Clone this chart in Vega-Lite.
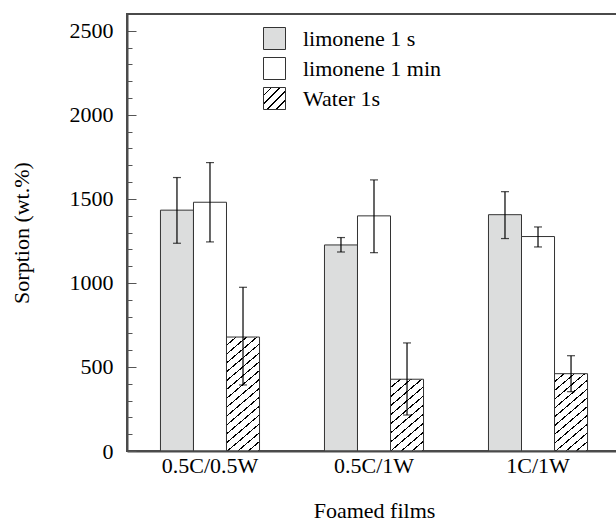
{
  "$schema": "https://vega.github.io/schema/vega-lite/v6.json",
  "width": 494,
  "height": 437,
  "autosize": {"type": "none"},
  "padding": {"left": 127, "top": 14, "right": -5, "bottom": 72},
  "data": {
    "values": [
      {"group": "0.5C/0.5W", "series": "limonene 1 s", "value": 1433, "lo": 1236, "hi": 1627},
      {"group": "0.5C/0.5W", "series": "limonene 1 min", "value": 1480, "lo": 1244, "hi": 1716},
      {"group": "0.5C/0.5W", "series": "Water 1s", "value": 678, "lo": 393, "hi": 974},
      {"group": "0.5C/1W", "series": "limonene 1 s", "value": 1226, "lo": 1184, "hi": 1270},
      {"group": "0.5C/1W", "series": "limonene 1 min", "value": 1399, "lo": 1180, "hi": 1613},
      {"group": "0.5C/1W", "series": "Water 1s", "value": 427, "lo": 214, "hi": 643},
      {"group": "1C/1W", "series": "limonene 1 s", "value": 1406, "lo": 1264, "hi": 1543},
      {"group": "1C/1W", "series": "limonene 1 min", "value": 1276, "lo": 1214, "hi": 1333},
      {"group": "1C/1W", "series": "Water 1s", "value": 460, "lo": 353, "hi": 567}
    ]
  },
  "resolve": {"axis": {"x": "independent", "y": "independent"}},
  "layer": [
    {
      "mark": {"type": "bar", "stroke": "#333", "strokeWidth": 1},
      "encoding": {
        "x": {
          "field": "group", "type": "nominal",
          "sort": ["0.5C/0.5W", "0.5C/1W", "1C/1W"],
          "scale": {"paddingInner": 0.396, "paddingOuter": 0.204},
          "axis": {"orient": "bottom", "title": "Foamed films", "domain": true, "ticks": false, "labelAngle": 0, "labelPadding": 4, "labelFontSize": 22, "titleFontSize": 22, "titlePadding": 24, "grid": false, "zindex": 2}
        },
        "xOffset": {
          "field": "series", "type": "nominal",
          "sort": ["limonene 1 s", "limonene 1 min", "Water 1s"],
          "scale": {"paddingInner": 0, "paddingOuter": 0}
        },
        "y": {
          "field": "value", "type": "quantitative",
          "scale": {"domain": [0, 2600], "nice": false},
          "title": "Sorption (wt.%)",
          "axis": {
            "orient": "left",
            "values": [0, 500, 1000, 1500, 2000, 2500],
            "format": "d",
            "tickSize": -9,
            "labelPadding": 23,
            "grid": false,
            "domain": true,
            "labelFontSize": 22,
            "titleFontSize": 22,
            "titlePadding": 36,
            "tickColor": "#555",
            "tickWidth": 1,
            "zindex": 2
          }
        },
        "fill": {
          "field": "series", "type": "nominal",
          "scale": {
            "domain": ["limonene 1 s", "limonene 1 min", "Water 1s"],
            "range": ["#dcdddd", "#ffffff",
              {"expr": "{gradient: 'linear', x1: 0, y1: 0, x2: 1, y2: 1, stops: [{offset: 0, color: '#fff'}, {offset: 0.16, color: '#fff'}, {offset: 0.16, color: '#000'}, {offset: 0.2, color: '#000'}, {offset: 0.2, color: '#fff'}, {offset: 0.36, color: '#fff'}, {offset: 0.36, color: '#000'}, {offset: 0.4, color: '#000'}, {offset: 0.4, color: '#fff'}, {offset: 0.56, color: '#fff'}, {offset: 0.56, color: '#000'}, {offset: 0.6, color: '#000'}, {offset: 0.6, color: '#fff'}, {offset: 0.76, color: '#fff'}, {offset: 0.76, color: '#000'}, {offset: 0.8, color: '#000'}, {offset: 0.8, color: '#fff'}, {offset: 0.96, color: '#fff'}, {offset: 0.96, color: '#000'}, {offset: 1, color: '#000'}]}"}
            ]
          },
          "condition": [
            {"test": "datum.group === '0.5C/0.5W' && datum.series === 'Water 1s'",
             "value": {"gradient": "linear", "x1": 0, "y1": 0, "x2": 0.289, "y2": 1.175, "stops": [
               {"offset": 0, "color": "#fff"},
               {"offset": 0.0525, "color": "#fff"}, {"offset": 0.0525, "color": "#000"}, {"offset": 0.0625, "color": "#000"}, {"offset": 0.0625, "color": "#fff"},
               {"offset": 0.115, "color": "#fff"}, {"offset": 0.115, "color": "#000"}, {"offset": 0.125, "color": "#000"}, {"offset": 0.125, "color": "#fff"},
               {"offset": 0.1775, "color": "#fff"}, {"offset": 0.1775, "color": "#000"}, {"offset": 0.1875, "color": "#000"}, {"offset": 0.1875, "color": "#fff"},
               {"offset": 0.24, "color": "#fff"}, {"offset": 0.24, "color": "#000"}, {"offset": 0.25, "color": "#000"}, {"offset": 0.25, "color": "#fff"},
               {"offset": 0.3025, "color": "#fff"}, {"offset": 0.3025, "color": "#000"}, {"offset": 0.3125, "color": "#000"}, {"offset": 0.3125, "color": "#fff"},
               {"offset": 0.365, "color": "#fff"}, {"offset": 0.365, "color": "#000"}, {"offset": 0.375, "color": "#000"}, {"offset": 0.375, "color": "#fff"},
               {"offset": 0.4275, "color": "#fff"}, {"offset": 0.4275, "color": "#000"}, {"offset": 0.4375, "color": "#000"}, {"offset": 0.4375, "color": "#fff"},
               {"offset": 0.49, "color": "#fff"}, {"offset": 0.49, "color": "#000"}, {"offset": 0.5, "color": "#000"}, {"offset": 0.5, "color": "#fff"},
               {"offset": 0.5525, "color": "#fff"}, {"offset": 0.5525, "color": "#000"}, {"offset": 0.5625, "color": "#000"}, {"offset": 0.5625, "color": "#fff"},
               {"offset": 0.615, "color": "#fff"}, {"offset": 0.615, "color": "#000"}, {"offset": 0.625, "color": "#000"}, {"offset": 0.625, "color": "#fff"},
               {"offset": 0.6775, "color": "#fff"}, {"offset": 0.6775, "color": "#000"}, {"offset": 0.6875, "color": "#000"}, {"offset": 0.6875, "color": "#fff"},
               {"offset": 0.74, "color": "#fff"}, {"offset": 0.74, "color": "#000"}, {"offset": 0.75, "color": "#000"}, {"offset": 0.75, "color": "#fff"},
               {"offset": 0.8025, "color": "#fff"}, {"offset": 0.8025, "color": "#000"}, {"offset": 0.8125, "color": "#000"}, {"offset": 0.8125, "color": "#fff"},
               {"offset": 0.865, "color": "#fff"}, {"offset": 0.865, "color": "#000"}, {"offset": 0.875, "color": "#000"}, {"offset": 0.875, "color": "#fff"},
               {"offset": 0.9275, "color": "#fff"}, {"offset": 0.9275, "color": "#000"}, {"offset": 0.9375, "color": "#000"}, {"offset": 0.9375, "color": "#fff"},
               {"offset": 0.99, "color": "#fff"}, {"offset": 0.99, "color": "#000"}, {"offset": 1, "color": "#000"}
             ]}},
            {"test": "datum.group === '0.5C/1W' && datum.series === 'Water 1s'",
             "value": {"gradient": "linear", "x1": 0, "y1": 0, "x2": 0.4716, "y2": 1.2065, "stops": [
               {"offset": 0, "color": "#fff"},
               {"offset": 0.0764, "color": "#fff"}, {"offset": 0.0764, "color": "#000"}, {"offset": 0.0909, "color": "#000"}, {"offset": 0.0909, "color": "#fff"},
               {"offset": 0.1673, "color": "#fff"}, {"offset": 0.1673, "color": "#000"}, {"offset": 0.1818, "color": "#000"}, {"offset": 0.1818, "color": "#fff"},
               {"offset": 0.2582, "color": "#fff"}, {"offset": 0.2582, "color": "#000"}, {"offset": 0.2727, "color": "#000"}, {"offset": 0.2727, "color": "#fff"},
               {"offset": 0.3491, "color": "#fff"}, {"offset": 0.3491, "color": "#000"}, {"offset": 0.3636, "color": "#000"}, {"offset": 0.3636, "color": "#fff"},
               {"offset": 0.44, "color": "#fff"}, {"offset": 0.44, "color": "#000"}, {"offset": 0.4545, "color": "#000"}, {"offset": 0.4545, "color": "#fff"},
               {"offset": 0.5309, "color": "#fff"}, {"offset": 0.5309, "color": "#000"}, {"offset": 0.5455, "color": "#000"}, {"offset": 0.5455, "color": "#fff"},
               {"offset": 0.6218, "color": "#fff"}, {"offset": 0.6218, "color": "#000"}, {"offset": 0.6364, "color": "#000"}, {"offset": 0.6364, "color": "#fff"},
               {"offset": 0.7127, "color": "#fff"}, {"offset": 0.7127, "color": "#000"}, {"offset": 0.7273, "color": "#000"}, {"offset": 0.7273, "color": "#fff"},
               {"offset": 0.8036, "color": "#fff"}, {"offset": 0.8036, "color": "#000"}, {"offset": 0.8182, "color": "#000"}, {"offset": 0.8182, "color": "#fff"},
               {"offset": 0.8945, "color": "#fff"}, {"offset": 0.8945, "color": "#000"}, {"offset": 0.9091, "color": "#000"}, {"offset": 0.9091, "color": "#fff"},
               {"offset": 0.9855, "color": "#fff"}, {"offset": 0.9855, "color": "#000"}, {"offset": 1, "color": "#000"}
             ]}},
            {"test": "datum.group === '1C/1W' && datum.series === 'Water 1s'",
             "value": {"gradient": "linear", "x1": 0, "y1": 0, "x2": 0.437, "y2": 1.204, "stops": [
               {"offset": 0, "color": "#fff"},
               {"offset": 0.07, "color": "#fff"}, {"offset": 0.07, "color": "#000"}, {"offset": 0.0833, "color": "#000"}, {"offset": 0.0833, "color": "#fff"},
               {"offset": 0.1533, "color": "#fff"}, {"offset": 0.1533, "color": "#000"}, {"offset": 0.1667, "color": "#000"}, {"offset": 0.1667, "color": "#fff"},
               {"offset": 0.2367, "color": "#fff"}, {"offset": 0.2367, "color": "#000"}, {"offset": 0.25, "color": "#000"}, {"offset": 0.25, "color": "#fff"},
               {"offset": 0.32, "color": "#fff"}, {"offset": 0.32, "color": "#000"}, {"offset": 0.3333, "color": "#000"}, {"offset": 0.3333, "color": "#fff"},
               {"offset": 0.4033, "color": "#fff"}, {"offset": 0.4033, "color": "#000"}, {"offset": 0.4167, "color": "#000"}, {"offset": 0.4167, "color": "#fff"},
               {"offset": 0.4867, "color": "#fff"}, {"offset": 0.4867, "color": "#000"}, {"offset": 0.5, "color": "#000"}, {"offset": 0.5, "color": "#fff"},
               {"offset": 0.57, "color": "#fff"}, {"offset": 0.57, "color": "#000"}, {"offset": 0.5833, "color": "#000"}, {"offset": 0.5833, "color": "#fff"},
               {"offset": 0.6533, "color": "#fff"}, {"offset": 0.6533, "color": "#000"}, {"offset": 0.6667, "color": "#000"}, {"offset": 0.6667, "color": "#fff"},
               {"offset": 0.7367, "color": "#fff"}, {"offset": 0.7367, "color": "#000"}, {"offset": 0.75, "color": "#000"}, {"offset": 0.75, "color": "#fff"},
               {"offset": 0.82, "color": "#fff"}, {"offset": 0.82, "color": "#000"}, {"offset": 0.8333, "color": "#000"}, {"offset": 0.8333, "color": "#fff"},
               {"offset": 0.9033, "color": "#fff"}, {"offset": 0.9033, "color": "#000"}, {"offset": 0.9167, "color": "#000"}, {"offset": 0.9167, "color": "#fff"},
               {"offset": 0.9867, "color": "#fff"}, {"offset": 0.9867, "color": "#000"}, {"offset": 1, "color": "#000"}
             ]}}
          ],
          "legend": {
            "orient": "none", "legendX": 136, "legendY": 13,
            "title": null, "padding": 0,
            "symbolType": "square", "symbolSize": 484,
            "symbolStrokeColor": "#333", "symbolStrokeWidth": 1,
            "labelFontSize": 22, "labelOffset": 17, "rowPadding": 3,
            "labelColor": "#000"
          }
        }
      }
    },
    {
      "mark": {"type": "rule", "color": "#000", "strokeWidth": 1.2},
      "encoding": {
        "x": {"field": "group", "type": "nominal", "sort": ["0.5C/0.5W", "0.5C/1W", "1C/1W"], "axis": null},
        "xOffset": {"field": "series", "type": "nominal", "sort": ["limonene 1 s", "limonene 1 min", "Water 1s"]},
        "y": {
          "field": "lo", "type": "quantitative",
          "axis": {"orient": "left", "values": [100, 200, 300, 400, 600, 700, 800, 900, 1100, 1200, 1300, 1400, 1600, 1700, 1800, 1900, 2100, 2200, 2300, 2400], "labels": false, "domain": false, "grid": false, "title": null, "tickSize": -5, "tickColor": "#555", "tickWidth": 1, "zindex": 2}
        },
        "y2": {"field": "hi"}
      }
    },
    {
      "mark": {"type": "tick", "orient": "horizontal", "color": "#000", "size": 8, "thickness": 1.2},
      "encoding": {
        "x": {"field": "group", "type": "nominal", "sort": ["0.5C/0.5W", "0.5C/1W", "1C/1W"], "axis": null},
        "xOffset": {"field": "series", "type": "nominal", "sort": ["limonene 1 s", "limonene 1 min", "Water 1s"]},
        "y": {"field": "lo", "type": "quantitative", "axis": null}
      }
    },
    {
      "mark": {"type": "tick", "orient": "horizontal", "color": "#000", "size": 8, "thickness": 1.2},
      "encoding": {
        "x": {"field": "group", "type": "nominal", "sort": ["0.5C/0.5W", "0.5C/1W", "1C/1W"], "axis": null},
        "xOffset": {"field": "series", "type": "nominal", "sort": ["limonene 1 s", "limonene 1 min", "Water 1s"]},
        "y": {"field": "hi", "type": "quantitative", "axis": null}
      }
    }
  ],
  "config": {
    "font": "Liberation Serif",
    "view": {"stroke": "#4a4a4a", "strokeWidth": 2},
    "axis": {
      "labelFont": "Liberation Serif", "titleFont": "Liberation Serif",
      "labelColor": "#000", "titleColor": "#000", "titleFontWeight": "normal",
      "domainColor": "#4a4a4a", "domainWidth": 2
    },
    "legend": {"labelFont": "Liberation Serif", "labelColor": "#000"}
  }
}
